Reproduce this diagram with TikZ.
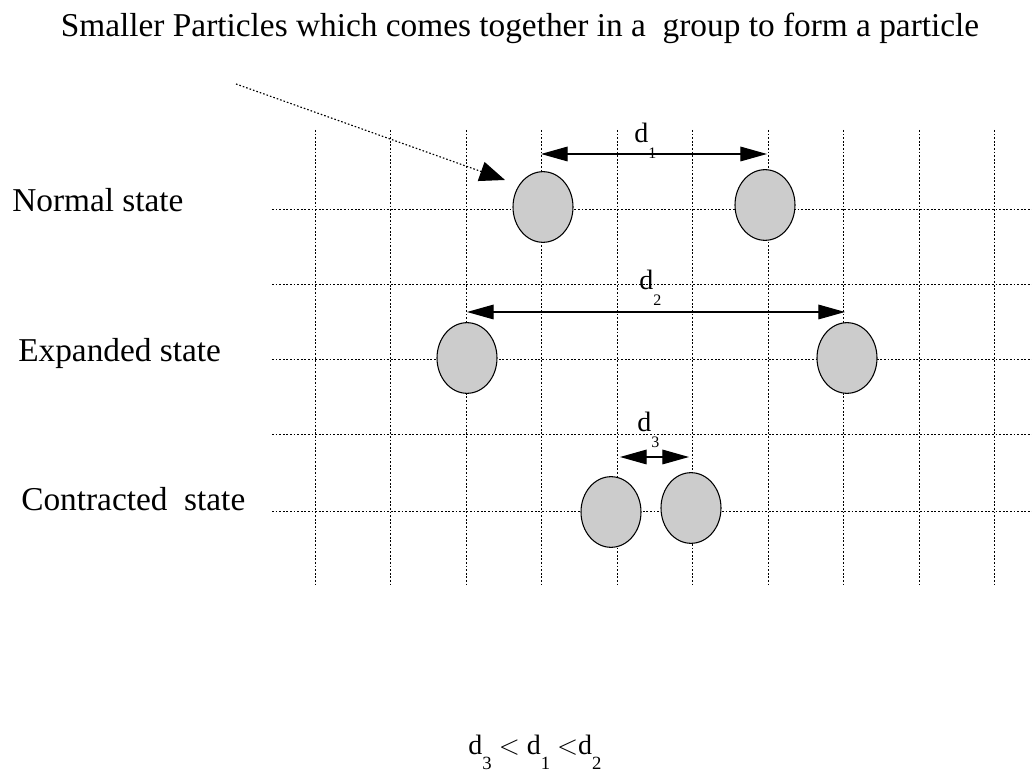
\documentclass[tikz,border=0pt]{standalone}
\usepackage{fontspec}
\setmainfont{Liberation Serif}
\usetikzlibrary{arrows.meta,shapes.geometric}
\newcommand\dsub[2]{d\raisebox{-0.55em}{\fontsize{#2}{#2}\selectfont #1}}
\tikzset{
  gridline/.style={line width=0.75pt, dash pattern=on 1.4pt off 1.3pt},
  particle/.style={ellipse, draw, line width=0.8pt, fill={rgb,255:red,204;green,204;blue,204}, minimum width=45pt, minimum height=53pt, inner sep=0pt},
  dimarrow/.style={line width=0.9pt, {Triangle[length=20pt,width=11pt]}-{Triangle[length=20pt,width=11pt]}},
  pointer/.style={line width=0.85pt, dash pattern=on 1.2pt off 1.5pt, -{Triangle[length=19pt,width=15pt]}},
  txt/.style={inner sep=0pt, font=\fontsize{25}{28}\selectfont},
  dlab/.style={inner sep=0pt, font=\fontsize{21}{24}\selectfont}
}
\begin{document}
\begin{tikzpicture}[x=0.75pt,y=-0.75pt]
\useasboundingbox (0,0) rectangle (1032,780);
% grid
\foreach \i in {0,...,9} {
  \draw[gridline] ({315+75.5*\i},130) -- ({315+75.5*\i},585);
}
\foreach \yy in {210,285,360,435,511} {
  \draw[gridline] (272,\yy) -- (1032,\yy);
}
% particles
\node[particle] (n1) at (543,207) {};
\node[particle] (n2) at (765,205) {};
\node[particle] (e1) at (467,358) {};
\node[particle] (e2) at (847,358) {};
\node[particle] (c1) at (611,512) {};
\node[particle] (c2) at (691,508) {};
% dimension arrows
\coordinate (d1a) at (541,154);
\coordinate (d1b) at (767,154);
\coordinate (d2a) at (467,312);
\coordinate (d2b) at (845,312);
\coordinate (d3a) at (620,457);
\coordinate (d3b) at (689,457);
\draw[dimarrow] (d1a) -- (d1b);
\draw[dimarrow] (d2a) -- (d2b);
\draw[dimarrow] (d3a) -- (d3b);
\node[dlab, anchor=base west] (l1) at (634,143) {\dsub{1}{12}};
\node[dlab, anchor=base west] (l2) at (639,290) {\dsub{2}{12}};
\node[dlab, anchor=base west] (l3) at (637,432) {\dsub{3}{12}};
% pointer
\coordinate (ptr) at (236,84);
\coordinate (ptrend) at (505,180);
\draw[pointer] (ptr) -- (ptrend);
% texts
\node[txt, anchor=base] (title) at (520,37) {Smaller Particles which comes together in a\ \ group to form a particle};
\node[txt, anchor=base west] (ns) at (12,212) {Normal state};
\node[txt, anchor=base west] (es) at (18,362) {Expanded state};
\node[txt, anchor=base west] (cs) at (21,510) {Contracted\ \ state};
\node[dlab, anchor=base] (rel) at (535,754) {\dsub{3}{14} $<$ \dsub{1}{14} $<$\dsub{2}{14}};
\end{tikzpicture}
\end{document}
